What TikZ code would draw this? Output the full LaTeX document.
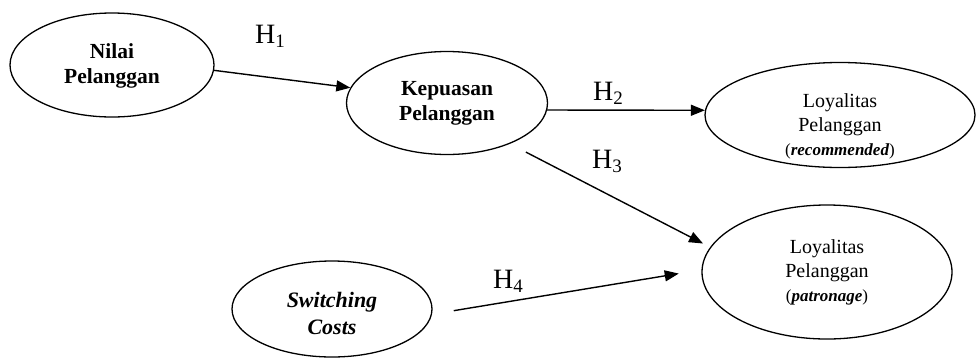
\documentclass[tikz,border=0pt]{standalone}
\usepackage{fontspec}
\setmainfont{Liberation Serif}
\usetikzlibrary{arrows.meta,shapes.geometric}
\newcommand{\hsub}[1]{H\raisebox{-4pt}{\fontsize{19}{19}\selectfont #1}}
\begin{document}
\begin{tikzpicture}[x=1pt,y=-1pt,
  ell/.style={draw, ellipse, line width=1.3pt, inner sep=0pt},
  boldtxt/.style={align=center, inner sep=0pt, font=\fontsize{21.5}{25}\selectfont\bfseries},
  loytxt/.style={align=center, inner sep=0pt, font=\fontsize{20}{24}\selectfont},
  hyp/.style={anchor=base west, inner sep=0pt, font=\fontsize{28}{28}\selectfont},
  arr/.style={line width=1.4pt, -{Triangle[length=14pt,width=11pt]}}]
\useasboundingbox (0,0) rectangle (977,357);
% ellipses
\node[ell, minimum width=204pt, minimum height=104pt] (nilai) at (112,65) {};
\node[ell, minimum width=201pt, minimum height=103pt] (kep) at (447,103) {};
\node[ell, minimum width=270pt, minimum height=105pt] (loyr) at (840,115) {};
\node[ell, minimum width=250pt, minimum height=134pt] (loyp) at (827,272) {};
\node[ell, minimum width=200pt, minimum height=96pt] (sw) at (332,309) {};
% texts
\node[boldtxt] (tnilai) at (112,66) {Nilai\\Pelanggan};
\node[boldtxt] (tkep) at (447,103) {Kepuasan\\Pelanggan};
\node[loytxt] (tloyr) at (840,126) {Loyalitas\\Pelanggan\\{\fontsize{17}{24}\selectfont(\textbf{\textit{recommended}})}};
\node[loytxt] (tloyp) at (827,272) {Loyalitas\\Pelanggan\\{\fontsize{17}{24}\selectfont(\textbf{\textit{patronage}})}};
\node[align=center, inner sep=0pt, font=\fontsize{22}{27}\selectfont\bfseries\itshape] (tsw) at (332,313) {Switching\\Costs};
% arrows
\draw[arr] (nilai.-3) -- (kep.171);
\draw[arr] (kep.-4) -- (loyr.178);
\draw[arr, shorten <=18pt, shorten >=8pt] (kep.-33) -- (loyp.168);
\draw[arr, shorten <=22pt, shorten >=23pt] (sw.-3) -- (loyp.179);
% hypothesis labels
\node[hyp] (h1) at (255,43) {\hsub{1}};
\node[hyp] (h2) at (593,100) {\hsub{2}};
\node[hyp] (h3) at (592,168) {\hsub{3}};
\node[hyp] (h4) at (493,288) {\hsub{4}};
\end{tikzpicture}
\end{document}
